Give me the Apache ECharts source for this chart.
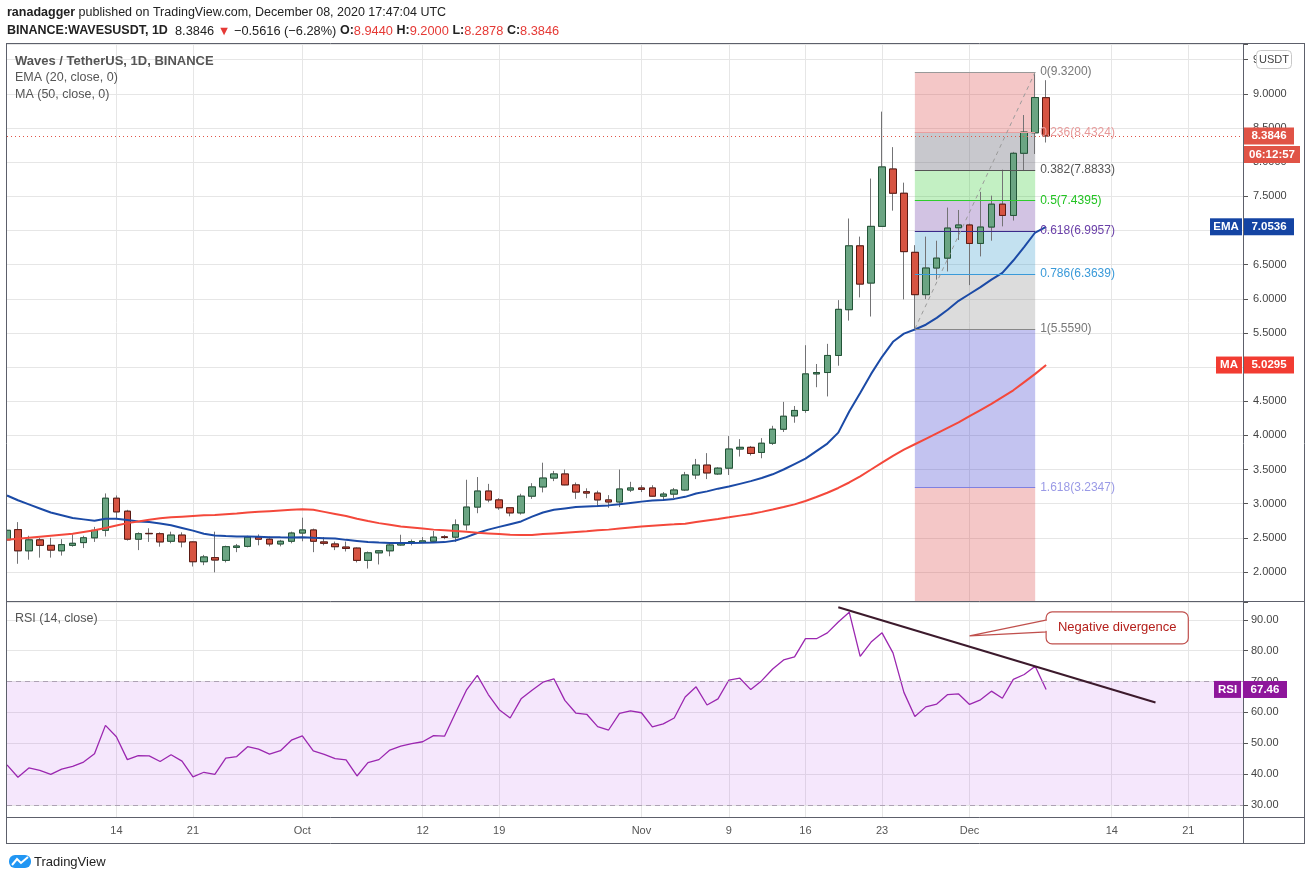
<!DOCTYPE html>
<html><head><meta charset="utf-8">
<script src="https://cdn.jsdelivr.net/npm/echarts@6/dist/echarts.min.js"></script>
<style>html,body{margin:0;padding:0;background:#fff;}#c{width:1311px;height:881px;}</style>
</head><body><div id="c"></div>
<script>
// ---------- DATA ----------
const firstDate = [2020, 8, 4];   // 2020-09-04
const dayCount = 114;             // visible range through 2020-12-26
const xTickDates  = ['2020-09-14','2020-09-21','2020-10-01','2020-10-12','2020-10-19','2020-11-01','2020-11-09','2020-11-16','2020-11-23','2020-12-01','2020-12-14','2020-12-21'];
const xTickLabels = ['14','21','Oct','12','19','Nov','9','16','23','Dec','14','21'];

const opens = [2.47,2.62,2.31,2.47,2.39,2.31,2.39,2.43,2.50,2.61,3.08,2.89,2.48,2.565,2.56,2.45,2.54,2.44,2.15,2.21,
2.17,2.36,2.375,2.51,2.48,2.41,2.45,2.57,2.615,2.44,2.41,2.365,2.35,2.17,2.28,2.31,2.395,2.425,2.435,2.45,
2.515,2.51,2.69,2.95,3.185,3.055,2.94,2.865,3.11,3.245,3.375,3.435,3.275,3.175,3.155,3.055,3.025,3.20,3.23,3.23,
3.11,3.14,3.20,3.42,3.565,3.435,3.52,3.80,3.825,3.75,3.885,4.09,4.285,4.365,4.90,4.92,5.17,5.84,6.775,6.23,
7.06,7.90,7.545,6.68,6.06,6.45,6.595,7.04,7.08,6.81,7.05,7.385,7.22,8.13,8.43,8.944];
const highs = [2.64,2.73,2.53,2.50,2.50,2.48,2.55,2.53,2.66,3.15,3.12,2.91,2.58,2.64,2.58,2.59,2.58,2.45,2.25,2.59,
2.385,2.41,2.53,2.55,2.52,2.47,2.59,2.795,2.635,2.51,2.445,2.445,2.36,2.30,2.32,2.425,2.545,2.475,2.51,2.60,
2.54,2.77,3.35,3.39,3.29,3.08,2.95,3.145,3.30,3.60,3.48,3.50,3.31,3.225,3.19,3.125,3.50,3.32,3.27,3.27,
3.17,3.23,3.465,3.655,3.74,3.535,3.99,3.945,3.845,3.96,4.14,4.49,4.43,5.32,5.045,5.34,5.98,7.175,6.91,7.76,
8.74,8.22,7.70,6.785,6.91,6.85,7.335,7.30,7.10,7.565,7.51,7.89,8.15,8.69,9.32,9.20];
const lows = [2.44,2.12,2.18,2.21,2.21,2.24,2.37,2.35,2.44,2.52,2.77,2.46,2.32,2.44,2.37,2.42,2.36,2.08,2.10,1.995,
2.14,2.29,2.36,2.39,2.375,2.375,2.42,2.45,2.29,2.39,2.32,2.30,2.14,2.05,2.11,2.23,2.385,2.39,2.425,2.44,
2.48,2.44,2.61,2.86,3.02,2.91,2.815,2.84,3.07,3.165,3.33,3.27,3.07,3.08,2.95,2.94,2.95,3.17,3.17,3.10,
3.04,3.08,3.185,3.36,3.36,3.42,3.42,3.69,3.705,3.665,3.86,4.05,4.185,4.33,4.705,4.57,5.02,5.68,6.02,5.74,
7.06,7.29,5.99,5.559,5.995,6.28,6.40,6.86,6.20,6.62,6.85,7.06,7.145,7.87,8.12,8.2878];
const closes = [2.61,2.31,2.47,2.39,2.32,2.40,2.42,2.50,2.61,3.08,2.88,2.48,2.56,2.56,2.44,2.54,2.44,2.15,2.22,2.175,
2.37,2.38,2.51,2.48,2.41,2.45,2.57,2.615,2.45,2.42,2.37,2.345,2.17,2.28,2.31,2.395,2.425,2.445,2.455,2.51,
2.505,2.69,2.95,3.185,3.055,2.94,2.865,3.11,3.245,3.375,3.435,3.275,3.17,3.155,3.055,3.025,3.215,3.23,3.21,3.11,
3.14,3.20,3.42,3.565,3.45,3.52,3.80,3.825,3.735,3.885,4.09,4.28,4.365,4.90,4.92,5.17,5.845,6.775,6.215,7.06,
7.93,7.545,6.69,6.06,6.45,6.595,7.035,7.08,6.81,7.05,7.385,7.22,8.13,8.44,8.9462,8.3846];

const ema20 = [3.12,3.05,2.99,2.93,2.87,2.83,2.79,2.77,2.75,2.78,2.78,2.76,2.74,2.73,2.71,2.685,2.645,2.605,2.56,2.535,
2.525,2.52,2.52,2.515,2.51,2.507,2.505,2.51,2.50,2.495,2.49,2.47,2.455,2.44,2.43,2.425,2.425,2.425,2.428,2.432,
2.437,2.46,2.51,2.57,2.62,2.66,2.70,2.74,2.81,2.87,2.91,2.93,2.95,2.96,2.965,2.975,2.99,3.01,3.03,3.045,
3.055,3.07,3.10,3.15,3.18,3.22,3.25,3.29,3.33,3.375,3.43,3.50,3.58,3.66,3.77,3.88,4.04,4.35,4.62,4.90,
5.15,5.37,5.49,5.55,5.62,5.72,5.84,5.97,6.07,6.17,6.28,6.38,6.56,6.76,6.97,7.0536];
const ma50 = [2.47,2.485,2.50,2.515,2.53,2.545,2.56,2.585,2.61,2.645,2.68,2.715,2.74,2.765,2.785,2.80,2.81,2.82,2.83,2.835,
2.845,2.855,2.87,2.88,2.89,2.90,2.91,2.92,2.91,2.88,2.85,2.82,2.78,2.745,2.715,2.69,2.665,2.65,2.635,2.62,
2.61,2.60,2.59,2.575,2.565,2.555,2.545,2.54,2.54,2.555,2.565,2.575,2.585,2.595,2.61,2.62,2.635,2.65,2.665,2.678,
2.688,2.697,2.707,2.73,2.753,2.776,2.80,2.825,2.849,2.88,2.915,2.951,2.99,3.04,3.098,3.16,3.23,3.31,3.40,3.50,
3.60,3.70,3.79,3.87,3.95,4.03,4.11,4.19,4.28,4.37,4.46,4.56,4.66,4.78,4.90,5.0295];
const rsi14 = [43.0,39.0,42.0,41.2,39.9,41.6,42.5,43.9,46.6,55.8,52.1,44.7,46.0,45.9,44.1,46.3,44.2,39.1,40.6,39.9,
45.2,45.7,48.9,48.1,46.5,47.6,51.0,52.4,47.5,46.4,45.0,44.6,39.4,43.7,44.7,47.8,49.1,49.9,50.5,52.5,
52.3,59.8,67.2,72.0,65.8,60.9,58.2,64.4,67.2,69.8,70.9,63.9,59.8,59.4,55.4,54.3,59.7,60.5,59.9,55.3,
56.3,58.2,65.0,68.3,62.4,64.4,70.5,71.1,67.4,70.3,74.1,77.0,78.0,83.9,83.9,85.8,89.3,92.5,78.2,82.8,
85.8,79.3,66.5,58.7,61.8,62.7,65.8,66.0,62.6,64.1,66.9,64.6,70.7,72.3,75.0,67.46];

const fibStartDate = '2020-11-26', fibEndDate = '2020-12-07';
const fibRatios = ['0','0.236','0.382','0.5','0.618','0.786','1','1.618'];
const fibPrices = [9.32,8.4324,7.8833,7.4395,6.9957,6.3639,5.559,3.2347];
const divergenceLine = [['2020-11-19',94.1],['2020-12-18',63.2]];
const calloutText = 'Negative divergence';

// ---------- helpers ----------
const dates = [];
{ const d = new Date(Date.UTC(firstDate[0], firstDate[1], firstDate[2]));
  for (let i = 0; i < dayCount; i++) { dates.push(d.toISOString().slice(0,10)); d.setUTCDate(d.getUTCDate()+1); } }
const tickMap = {}; xTickDates.forEach((d,i)=>tickMap[d]=xTickLabels[i]);
const isTick = (idx, val) => tickMap[val] !== undefined;

const Y0MIN = 1.575, Y0MAX = 9.73, Y1MIN = 26.1, Y1MAX = 95.8;
const FONT = '"Liberation Sans", Arial, sans-serif';
const UP_FILL = '#6ba583', DN_FILL = '#d75442', UP_BORDER = '#225437', DN_BORDER = '#5b1a13', WICK = '#737375';

const ohlcWicks = opens.map((o,i)=>[o, closes[i], lows[i], highs[i]]);
const ohlcBodies = opens.map((o,i)=>[o, closes[i], Math.min(o,closes[i]), Math.max(o,closes[i])]);
const lastClose = closes[closes.length-1];

const zoneColors = ['rgba(220,70,70,0.3)','rgba(98,98,112,0.35)','rgba(55,205,55,0.3)','rgba(105,55,162,0.3)',
  'rgba(55,155,205,0.3)','rgba(138,138,138,0.3)','rgba(55,55,205,0.3)','rgba(220,70,70,0.3)'];
const levelLine = ['#999','#e8a0a0','#555','#2ecc2e','#3b2a8a','#3a9ad9','#888','#8080e0'];
const levelText = ['#777','#e89a9a','#555','#22c322','#6a3fa8','#3a9ad9','#777','#9a9ae6'];

const fibZones = fibPrices.map((p,k)=>[
  {xAxis: fibStartDate, yAxis: p, itemStyle:{color: zoneColors[k]}},
  {xAxis: fibEndDate, yAxis: k < fibPrices.length-1 ? fibPrices[k+1] : Y0MIN}
]);
const fibLines = fibPrices.map((p,k)=>[
  {coord:[fibStartDate, p], lineStyle:{color: levelLine[k], width:1, type:'solid'},
   label:{show:true, position:'end', distance:5, formatter: fibRatios[k]+'('+p.toFixed(4)+')', color: levelText[k], fontSize:12, fontFamily: FONT}},
  {coord:[fibEndDate, p]}
]);
fibLines.push([
  {coord:[fibStartDate, fibPrices[6]], lineStyle:{color:'#9a9a9a', width:1, type:[4,4]}, label:{show:false}},
  {coord:[fibEndDate, fibPrices[0]]}
]);
fibLines.push({yAxis: lastClose, lineStyle:{color:'#e05346', width:1, type:[1,3]}, label:{show:false}});

const gridLineColor = '#e6e6e6';
const option = {
  animation: false,
  textStyle: {fontFamily: FONT},
  grid: [
    {left: 7, top: 44, width: 1236, height: 557},
    {left: 7, top: 602, width: 1236, height: 215}
  ],
  xAxis: [
    {type:'category', gridIndex:0, data: dates, boundaryGap:false,
     axisLine:{show:false}, axisTick:{show:false}, axisLabel:{show:false},
     splitLine:{show:true, interval: isTick, lineStyle:{color: gridLineColor}}},
    {type:'category', gridIndex:1, data: dates, boundaryGap:false,
     axisLine:{show:false}, axisTick:{show:false},
     axisLabel:{show:true, interval: isTick, formatter: v => tickMap[v] || '', color:'#555', fontSize:11, margin:8},
     splitLine:{show:true, interval: isTick, lineStyle:{color: gridLineColor}}}
  ],
  yAxis: [
    {type:'value', gridIndex:0, position:'right', min:Y0MIN, max:Y0MAX, splitNumber:16, minInterval:0.5, maxInterval:0.5,
     axisLine:{show:false}, axisTick:{show:true, length:5, lineStyle:{color:'#555'}},
     axisLabel:{color:'#444', fontSize:11, margin:10,
       formatter: v => Math.abs(v*2 - Math.round(v*2)) < 1e-6 ? v.toFixed(4) : ''},
     splitLine:{show:true, lineStyle:{color: gridLineColor}}},
    {type:'value', gridIndex:1, position:'right', min:Y1MIN, max:Y1MAX, splitNumber:7, minInterval:10, maxInterval:10,
     axisLine:{show:false}, axisTick:{show:true, length:5, lineStyle:{color:'#555'}},
     axisLabel:{color:'#444', fontSize:11, margin:8,
       formatter: v => Math.abs(v/10 - Math.round(v/10)) < 1e-6 ? v.toFixed(2) : ''},
     splitLine:{show:true, lineStyle:{color: gridLineColor}}}
  ],
  series: [
    {type:'candlestick', name:'wicks', xAxisIndex:0, yAxisIndex:0, data: ohlcWicks, barWidth:7, z:3, clip:true,
     itemStyle:{color: UP_FILL, color0: DN_FILL, borderColor: WICK, borderColor0: WICK, borderWidth:1},
     markArea:{silent:true, data: fibZones},
     markLine:{silent:true, symbol:'none', data: fibLines}},
    {type:'candlestick', name:'bodies', xAxisIndex:0, yAxisIndex:0, data: ohlcBodies, barWidth:7, z:3, clip:true,
     itemStyle:{color: UP_FILL, color0: DN_FILL, borderColor: UP_BORDER, borderColor0: DN_BORDER, borderWidth:1}},
    {type:'line', name:'EMA', xAxisIndex:0, yAxisIndex:0, data: ema20, symbol:'none', z:4,
     lineStyle:{color:'#1b4aa6', width:2}},
    {type:'line', name:'MA', xAxisIndex:0, yAxisIndex:0, data: ma50, symbol:'none', z:4,
     lineStyle:{color:'#f4483b', width:2}},
    {type:'line', name:'RSI', xAxisIndex:1, yAxisIndex:1, data: rsi14, symbol:'none', z:4,
     lineStyle:{color:'#9b27b0', width:1.3},
     markArea:{silent:true, data:[[{xAxis: dates[0], yAxis:70, itemStyle:{color:'rgba(170,60,230,0.12)'}},{xAxis: dates[dates.length-1], yAxis:30}]]},
     markLine:{silent:true, symbol:'none', data:[
       {yAxis:70, lineStyle:{color:'#ada2b3', type:[5,4], width:1}, label:{show:false}},
       {yAxis:30, lineStyle:{color:'#ada2b3', type:[5,4], width:1}, label:{show:false}},
       [{coord: divergenceLine[0], lineStyle:{color:'#3c1a2c', type:'solid', width:2}, label:{show:false}},
        {coord: divergenceLine[1]}]
     ]}}
  ]
};

const chart = echarts.init(document.getElementById('c'), null, {width:1311, height:881});
chart.setOption(option);

// ---------- annotations / chrome ----------
const py = v => chart.convertToPixel({yAxisIndex:0}, v);
const ry = v => chart.convertToPixel({yAxisIndex:1}, v);
const rx = v => chart.convertToPixel({xAxisIndex:1}, v);
const g = [];
function txt(x, y, text, opt) {
  g.push({type:'text', x, y, z:100, silent:true, style: Object.assign({text, fill:'#333', fontSize:12, fontFamily:FONT,
    align:'left', verticalAlign:'middle', textAlign:'left', textVerticalAlign:'middle'}, opt||{})});
}
function rect(x, y, w, h, fill, opt) {
  g.push({type:'rect', z:99, silent:true, shape:{x, y, width:w, height:h, r:(opt&&opt.r)||0},
    style:{fill, stroke:(opt&&opt.stroke)||null, lineWidth:(opt&&opt.lw)||0}});
}
function line(x1,y1,x2,y2,color,w) {
  g.push({type:'line', z:98, silent:true, shape:{x1,y1,x2,y2}, style:{stroke:color, lineWidth:w||1}});
}
// mask the part of the first candle that lies left of the pane
g.push({type:'rect', z:97, silent:true, shape:{x:0, y:44, width:6.5, height:557}, style:{fill:'#fff'}});
// frame
const FR = '#5d606b';
line(6,43.5,1304,43.5,FR); line(6,843.5,1304,843.5,FR);
line(6.5,43,6.5,844,FR); line(1304.5,43,1304.5,844,FR);
line(1243.5,43,1243.5,844,FR); line(6,601.5,1304,601.5,FR); line(6,817.5,1304,817.5,FR);

// header
txt(7, 13, '{b|ranadagger} published on TradingView.com, December 08, 2020 17:47:04 UTC',
  {fontSize:12.5, fill:'#222', rich:{b:{fontWeight:'bold', fontSize:12.5, fill:'#222', fontFamily:FONT}}});
txt(7, 31, '{b|BINANCE:WAVESUSDT, 1D}  8.3846 {r|▼} −0.5616 (−6.28%) {b|O:}{r|8.9440} {b|H:}{r|9.2000} {b|L:}{r|8.2878} {b|C:}{r|8.3846}',
  {fontSize:12.8, fill:'#222', rich:{b:{fontWeight:'bold', fontSize:12.5, fill:'#222', fontFamily:FONT}, r:{fill:'#e53935', fontSize:12.8, fontFamily:FONT}}});
// pane legends
txt(15, 61, 'Waves / TetherUS, 1D, BINANCE', {fontSize:13, fontWeight:'bold', fill:'#555'});
txt(15, 78, 'EMA (20, close, 0)', {fontSize:12.5, fill:'#555'});
txt(15, 95, 'MA (50, close, 0)', {fontSize:12.5, fill:'#555'});
txt(15, 619, 'RSI (14, close)', {fontSize:12.5, fill:'#555'});

// USDT badge
rect(1256.5, 50.5, 35, 18, '#fff', {stroke:'#c8c8c8', lw:1, r:4});
txt(1274, 60, 'USDT', {fontSize:11, fill:'#444', align:'center', textAlign:'center'});

// value badges on price scale
function badge(label, value, yc, fill, labelX) {
  if (label) { rect(labelX, yc-8.5, 1242-labelX, 17, fill); txt((labelX+1242)/2, yc, label, {fill:'#fff', fontWeight:'bold', fontSize:11.5, align:'center', textAlign:'center'}); }
  rect(1244, yc-8.5, 50, 17, fill);
  txt(1269, yc, value, {fill:'#fff', fontWeight:'bold', fontSize:11.5, align:'center', textAlign:'center'});
}
const yPrice = py(lastClose);
badge(null, lastClose.toFixed(4), yPrice, '#e05346');
rect(1244, yPrice+10, 56, 17, '#e05346');
txt(1272, yPrice+18.5, '06:12:57', {fill:'#fff', fontWeight:'bold', fontSize:11.5, align:'center', textAlign:'center'});
badge('EMA', ema20[ema20.length-1].toFixed(4), py(ema20[ema20.length-1]), '#1444a3', 1210);
badge('MA', ma50[ma50.length-1].toFixed(4), py(ma50[ma50.length-1]), '#f23c32', 1216);
{
  const yc = ry(rsi14[rsi14.length-1]);
  rect(1214, yc-8.5, 27, 17, '#8e169b'); txt(1227.5, yc, 'RSI', {fill:'#fff', fontWeight:'bold', fontSize:11.5, align:'center', textAlign:'center'});
  rect(1243, yc-8.5, 44, 17, '#8e169b'); txt(1265, yc, rsi14[rsi14.length-1].toFixed(2), {fill:'#fff', fontWeight:'bold', fontSize:11.5, align:'center', textAlign:'center'});
}

// callout "Negative divergence" anchored in RSI data units
{
  const tipX = rx('2020-12-01'), tipY = ry(84.8);
  const bx1 = rx(95.35), bx2 = rx(108.3), by1 = ry(92.6), by2 = ry(82.2);
  g.push({type:'polygon', z:100, silent:true, shape:{points:[[bx1+1, by1+8],[tipX, tipY],[bx1+1, by1+20]]},
          style:{fill:'#fff', stroke:'#c0504d', lineWidth:1.2}});
  g.push({type:'rect', z:101, silent:true, shape:{x:bx1, y:by1, width:bx2-bx1, height:by2-by1, r:6},
          style:{fill:'#fff', stroke:'#c0504d', lineWidth:1.2}});
  g.push({type:'rect', z:102, silent:true, shape:{x:bx1-1, y:by1+9, width:3, height:10}, style:{fill:'#fff'}});
  g.push({type:'text', z:103, silent:true, x:(bx1+bx2)/2, y:(by1+by2)/2,
          style:{text: calloutText, fill:'#b5201c', fontSize:13, fontFamily:FONT, align:'center', verticalAlign:'middle', textAlign:'center', textVerticalAlign:'middle'}});
}

// TradingView logo
g.push({type:'rect', z:100, silent:true, shape:{x:9, y:855, width:22, height:13, r:6}, style:{fill:'#2196f3'}});
g.push({type:'polyline', z:101, silent:true, shape:{points:[[12,865],[17,859],[21,863],[28,857]]}, style:{stroke:'#fff', lineWidth:2, fill:null}});
txt(34, 862, 'TradingView', {fontSize:13, fill:'#222'});

chart.setOption({graphic: g});
</script>
</body></html>
